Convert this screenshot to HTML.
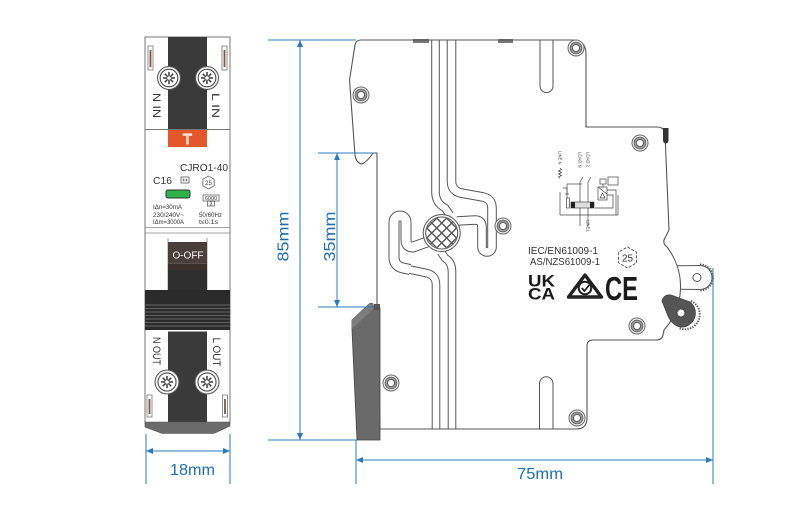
<!DOCTYPE html>
<html><head><meta charset="utf-8"><style>
html,body{margin:0;padding:0;background:#fff;}
svg{display:block;}
text{font-family:"Liberation Sans",Arial,sans-serif;}
</style></head><body>
<svg width="800" height="516" viewBox="0 0 800 516" xmlns="http://www.w3.org/2000/svg">
<defs>
<clipPath id="gc"><circle cx="441.7" cy="233" r="15.5"/></clipPath>
</defs>

<!-- ================= FRONT VIEW ================= -->
<rect x="145" y="37" width="85" height="386" fill="#fff" stroke="#777" stroke-width="1"/>
<rect x="168" y="37" width="39" height="92" fill="#3a3a3a"/>
<line x1="145" y1="129.5" x2="230" y2="129.5" stroke="#777" stroke-width="1"/>
<rect x="148" y="46" width="5" height="24" fill="#fff" stroke="#777" stroke-width="0.8"/>
<rect x="149.6" y="50" width="1.8" height="17" fill="#7a5a45"/>
<rect x="222" y="46" width="5" height="24" fill="#fff" stroke="#777" stroke-width="0.8"/>
<rect x="223.6" y="50" width="1.8" height="17" fill="#7a5a45"/>
<g transform="translate(169,78)">
<circle r="11.5" fill="#f0f0f0" stroke="#555" stroke-width="1"/>
<circle r="8.8" fill="#fff" stroke="#444" stroke-width="1"/>
<g stroke="#444" stroke-width="1.6"><line x1="-6" y1="0" x2="6" y2="0"/><line x1="0" y1="-6" x2="0" y2="6"/><line x1="-4.2" y1="-4.2" x2="4.2" y2="4.2"/><line x1="-4.2" y1="4.2" x2="4.2" y2="-4.2"/></g>
<circle r="1.8" fill="#fff"/>
</g>
<g transform="translate(207,78)">
<circle r="11.5" fill="#f0f0f0" stroke="#555" stroke-width="1"/>
<circle r="8.8" fill="#fff" stroke="#444" stroke-width="1"/>
<g stroke="#444" stroke-width="1.6"><line x1="-6" y1="0" x2="6" y2="0"/><line x1="0" y1="-6" x2="0" y2="6"/><line x1="-4.2" y1="-4.2" x2="4.2" y2="4.2"/><line x1="-4.2" y1="4.2" x2="4.2" y2="-4.2"/></g>
<circle r="1.8" fill="#fff"/>
</g>
<text transform="translate(153,105.5) rotate(90)" text-anchor="middle" font-size="11" fill="#333" textLength="25" lengthAdjust="spacingAndGlyphs">N IN</text>
<text transform="translate(212,105.5) rotate(90)" text-anchor="middle" font-size="11" fill="#333" textLength="25" lengthAdjust="spacingAndGlyphs">L IN</text>
<rect x="168" y="130" width="39" height="17" fill="#e2582a"/>
<text x="187.5" y="144" text-anchor="middle" font-size="15" fill="#e2582a" stroke="#fff" stroke-width="0.9">T</text>
<text x="180" y="171" font-size="10.2" fill="#333" textLength="48" lengthAdjust="spacingAndGlyphs">CJRO1-40</text>
<text x="153" y="184" font-size="10.4" fill="#333" textLength="19" lengthAdjust="spacingAndGlyphs">C16</text>
<rect x="181" y="177" width="8" height="6" fill="none" stroke="#444" stroke-width="0.7"/>
<path d="M182.5,180 h5 M183,178.5 l1,3 M186,178.5 l1,3" stroke="#444" stroke-width="0.6" fill="none"/>
<polygon points="208.5,176 214.1,179.25 214.1,185.75 208.5,189 202.9,185.75 202.9,179.25" fill="none" stroke="#444" stroke-width="0.7"/>
<text x="208.5" y="185" text-anchor="middle" font-size="6" fill="#333">25</text>
<rect x="166" y="190" width="24" height="8" rx="2" fill="#2fb24a" stroke="#333" stroke-width="1"/>
<rect x="203" y="195" width="16" height="6" fill="none" stroke="#333" stroke-width="0.6"/>
<text x="211" y="200" text-anchor="middle" font-size="5.5" fill="#333">6000</text>
<rect x="207.5" y="201" width="7" height="5" fill="none" stroke="#333" stroke-width="0.6"/>
<text x="211" y="205.5" text-anchor="middle" font-size="5" fill="#333">3</text>
<text x="153" y="209" font-size="6.2" fill="#333" textLength="29" lengthAdjust="spacingAndGlyphs">IΔn=30mA</text>
<text x="153" y="217" font-size="6.2" fill="#333" textLength="31" lengthAdjust="spacingAndGlyphs">230/240V~</text>
<text x="153" y="224" font-size="6.2" fill="#333" textLength="31" lengthAdjust="spacingAndGlyphs">IΔm=3000A</text>
<text x="199" y="217" font-size="6.2" fill="#333" textLength="23" lengthAdjust="spacingAndGlyphs">50/60Hz</text>
<text x="199" y="224" font-size="6.2" fill="#333" textLength="19" lengthAdjust="spacingAndGlyphs">t≤0.1s</text>
<line x1="145" y1="227.5" x2="230" y2="227.5" stroke="#888" stroke-width="0.8"/>
<line x1="145" y1="233" x2="230" y2="233" stroke="#888" stroke-width="0.8"/>
<line x1="168" y1="238" x2="168" y2="290" stroke="#888" stroke-width="0.8"/>
<line x1="207" y1="238" x2="207" y2="290" stroke="#888" stroke-width="0.8"/>
<rect x="168" y="242" width="39" height="21" fill="#4a403b"/>
<rect x="168" y="263" width="39" height="7" fill="#3a302c"/>
<line x1="168" y1="263.5" x2="207" y2="263.5" stroke="#6a5c54" stroke-width="0.8"/>
<rect x="168" y="270" width="39" height="20" fill="#2f2f2f"/>
<text x="188" y="258.5" text-anchor="middle" font-size="10" fill="#fff">O-OFF</text>
<rect x="145" y="290" width="85" height="40" fill="#2b2b2b"/>
<g stroke="#5c5c5c" stroke-width="1.2">
<line x1="145" y1="305" x2="230" y2="305"/><line x1="145" y1="308.5" x2="230" y2="308.5"/>
<line x1="145" y1="312" x2="230" y2="312"/><line x1="145" y1="315.5" x2="230" y2="315.5"/>
<line x1="145" y1="319" x2="230" y2="319"/><line x1="145" y1="322.5" x2="230" y2="322.5"/>
<line x1="145" y1="326" x2="230" y2="326"/>
</g>
<rect x="168" y="331.5" width="39" height="91" fill="#3a3a3a"/>
<text transform="translate(153,351) rotate(90)" text-anchor="middle" font-size="11" fill="#333" textLength="28" lengthAdjust="spacingAndGlyphs">N OUT</text>
<text transform="translate(213,352) rotate(90)" text-anchor="middle" font-size="11" fill="#333" textLength="29" lengthAdjust="spacingAndGlyphs">L OUT</text>
<g transform="translate(167,382)">
<circle r="12" fill="#f0f0f0" stroke="#555" stroke-width="1"/>
<circle r="9" fill="#fff" stroke="#444" stroke-width="1"/>
<g stroke="#444" stroke-width="1.6"><line x1="-6" y1="0" x2="6" y2="0"/><line x1="0" y1="-6" x2="0" y2="6"/><line x1="-4.2" y1="-4.2" x2="4.2" y2="4.2"/><line x1="-4.2" y1="4.2" x2="4.2" y2="-4.2"/></g>
<circle r="1.8" fill="#fff"/>
</g>
<g transform="translate(207,382)">
<circle r="12" fill="#f0f0f0" stroke="#555" stroke-width="1"/>
<circle r="9" fill="#fff" stroke="#444" stroke-width="1"/>
<g stroke="#444" stroke-width="1.6"><line x1="-6" y1="0" x2="6" y2="0"/><line x1="0" y1="-6" x2="0" y2="6"/><line x1="-4.2" y1="-4.2" x2="4.2" y2="4.2"/><line x1="-4.2" y1="4.2" x2="4.2" y2="-4.2"/></g>
<circle r="1.8" fill="#fff"/>
</g>
<rect x="147" y="395" width="5" height="22" fill="#fff" stroke="#777" stroke-width="0.8"/>
<rect x="148.6" y="399" width="1.8" height="15" fill="#7a5a45"/>
<rect x="222.5" y="395" width="5" height="22" fill="#fff" stroke="#777" stroke-width="0.8"/>
<rect x="224.1" y="399" width="1.8" height="15" fill="#7a5a45"/>
<polygon points="145,422 230,422 230,426 214,433.5 162,433.5 145,427" fill="#6b6b6b" stroke="#555" stroke-width="0.6"/>

<!-- ================= SIDE VIEW ================= -->
<!-- white lever (behind body) -->
<path d="M660,266 L700,265.5 A12,12 0 0 1 700,289.5 L660,289 Z" fill="#fff" stroke="#555" stroke-width="1"/>
<path d="M700,264.5 A13,13 0 0 1 700,290.5" fill="none" stroke="#555" stroke-width="2" stroke-dasharray="1.3 1.3"/>
<circle cx="697" cy="277.5" r="4" fill="#fff" stroke="#555" stroke-width="1"/>

<path d="M361,40 H572 Q586,40 586,54 V127 H657 Q664,127 665,134 L669,230 L664,240 Q663,244 667,247 A65,65 0 0 1 664,330 L663,335 Q662,340 656,340 H593 Q587,340 587,346 V418 Q587,429 576,429 L380,429 L377,303 V153 H373 Q367,162 362,164 Q356,163 355,155 L349.5,80 L355,45 Q356,40 361,40 Z" fill="#fff" stroke="none"/>

<g fill="none" stroke="#555">
<path stroke-width="8.6" d="M435.5,40 V192 Q435.5,203 445,208 L450,215"/>
<path stroke-width="9.6" d="M451.5,40 V181 Q451.5,191 461,193 L483,197 Q492,199 492,208 V247 A5,5 0 0 1 482,247 V227 Q482,220 475,220 L457,221"/>
<path stroke-width="8.6" d="M436,429 V285 Q436,275 426,273 L406,268.7"/>
<path stroke-width="11" d="M410,269.5 L403,268 Q394,266 394,257 V222 A6,6 0 0 1 406,222 V240 Q406,247 413,247 L427,242"/>
<path stroke-width="8.6" d="M452,429 V272 Q452,262 445,258 L441,252"/>
</g>
<g fill="none" stroke="#fff">
<path stroke-width="6.6" d="M435.5,40 V192 Q435.5,203 445,208 L450,215"/>
<path stroke-width="7.6" d="M451.5,40 V181 Q451.5,191 461,193 L483,197 Q492,199 492,208 V247 A5,5 0 0 1 482,247 V227 Q482,220 475,220 L457,221"/>
<path stroke-width="6.6" d="M436,429 V285 Q436,275 426,273 L406,268.7"/>
<path stroke-width="9" d="M410,269.5 L403,268 Q394,266 394,257 V222 A6,6 0 0 1 406,222 V240 Q406,247 413,247 L427,242"/>
<path stroke-width="6.6" d="M452,429 V272 Q452,262 445,258 L441,252"/>
</g>
<circle cx="441.7" cy="233" r="18.5" fill="#fff" stroke="#555" stroke-width="1"/>
<circle cx="441.7" cy="233" r="16" fill="#fff" stroke="#555" stroke-width="1"/>
<g clip-path="url(#gc)">
<g transform="translate(441.7,233) rotate(45)" stroke="#555" stroke-width="1.4" fill="none">
<line x1="-14" y1="-22" x2="-14" y2="22"/><line x1="-7" y1="-22" x2="-7" y2="22"/><line x1="0" y1="-22" x2="0" y2="22"/><line x1="7" y1="-22" x2="7" y2="22"/><line x1="14" y1="-22" x2="14" y2="22"/>
<line y1="-14" x1="-22" y2="-14" x2="22"/><line y1="-7" x1="-22" y2="-7" x2="22"/><line y1="0" x1="-22" y2="0" x2="22"/><line y1="7" x1="-22" y2="7" x2="22"/><line y1="14" x1="-22" y2="14" x2="22"/>
</g>
</g>

<path d="M540,40 V86 A6.5,6.5 0 0 0 553,86 V40" fill="none" stroke="#555" stroke-width="1"/>
<path d="M539.5,429 V383.5 A6.75,6.75 0 0 1 553,383.5 V429" fill="none" stroke="#555" stroke-width="1"/>
<rect x="413" y="39" width="16" height="4" fill="#777"/>
<rect x="498" y="39" width="15" height="4" fill="#777"/>

<path d="M361,40 H572 Q586,40 586,54 V127 H657 Q664,127 665,134 L669,230 L664,240 Q663,244 667,247 A65,65 0 0 1 664,330 L663,335 Q662,340 656,340 H593 Q587,340 587,346 V418 Q587,429 576,429 L380,429 L377,303 V153 H373 Q367,162 362,164 Q356,163 355,155 L349.5,80 L355,45 Q356,40 361,40 Z" fill="none" stroke="#555" stroke-width="1.1"/>

<g>
<g transform="translate(361,95)"><circle r="8" fill="#fff" stroke="#666"/><circle r="6" fill="#9a9a9a" stroke="#555" stroke-width="0.8"/><circle r="3.5" fill="#fff" stroke="#444" stroke-width="0.8"/></g>
<g transform="translate(576,48)"><circle r="8" fill="#fff" stroke="#666"/><circle r="6" fill="#9a9a9a" stroke="#555" stroke-width="0.8"/><circle r="3.5" fill="#fff" stroke="#444" stroke-width="0.8"/></g>
<g transform="translate(640,143)"><circle r="8" fill="#fff" stroke="#666"/><circle r="6" fill="#9a9a9a" stroke="#555" stroke-width="0.8"/><circle r="3.5" fill="#fff" stroke="#444" stroke-width="0.8"/></g>
<g transform="translate(503,226)"><circle r="8" fill="#fff" stroke="#666"/><circle r="6" fill="#9a9a9a" stroke="#555" stroke-width="0.8"/><circle r="3.5" fill="#fff" stroke="#444" stroke-width="0.8"/></g>
<g transform="translate(637,326)"><circle r="8" fill="#fff" stroke="#666"/><circle r="6" fill="#9a9a9a" stroke="#555" stroke-width="0.8"/><circle r="3.5" fill="#fff" stroke="#444" stroke-width="0.8"/></g>
<g transform="translate(391,383)"><circle r="8" fill="#fff" stroke="#666"/><circle r="6" fill="#9a9a9a" stroke="#555" stroke-width="0.8"/><circle r="3.5" fill="#fff" stroke="#444" stroke-width="0.8"/></g>
<g transform="translate(577,418)"><circle r="8" fill="#fff" stroke="#666"/><circle r="6" fill="#9a9a9a" stroke="#555" stroke-width="0.8"/><circle r="3.5" fill="#fff" stroke="#444" stroke-width="0.8"/></g>
</g>

<path d="M663,128 h5.5 v12 a2.75,3.5 0 0 1 -5.5,0 z" fill="#333"/>

<!-- gray lever (on top) -->
<path d="M662,301 Q664,294 671,295 L690,302 A14,14 0 0 1 680,327 Q672,325 668,316 Z" fill="#555" stroke="#444" stroke-width="0.8"/>
<path d="M691,301 A14.5,14.5 0 0 1 679,328" fill="none" stroke="#555" stroke-width="2" stroke-dasharray="1.3 1.3"/>
<circle cx="681" cy="313" r="4" fill="#fff" stroke="#333" stroke-width="0.8"/>

<path d="M352,320 L368,305 Q371,302 373,304 L374,308 L380,308 L380,440 L357,440 L352,330 Z" fill="#6a6a6a" stroke="#444" stroke-width="0.8"/>
<path d="M352,320 L368,305 Q371,302 373,304 L374,308 L352,329 Z" fill="#7d7d7d"/>
<rect x="374" y="304" width="6" height="6" fill="#555"/>

<g stroke="#444" stroke-width="0.7" fill="none">
<path d="M560,168 l1.5,1.5 l-3,1.5 l3,1.5 l-3,1.5 l3,1.5 l-3,1.5 l1.5,1.5"/>
<line x1="560" y1="192" x2="560" y2="215"/>
<line x1="560" y1="215" x2="618" y2="215"/>
<line x1="618" y1="195" x2="618" y2="215"/>
<line x1="580" y1="182" x2="580" y2="226"/>
<line x1="588" y1="182" x2="588" y2="226"/>
<line x1="580" y1="182" x2="583" y2="177"/>
<line x1="588" y1="182" x2="591" y2="177"/>
<line x1="567" y1="184" x2="582" y2="184"/>
<path d="M563,188 h4 v6 M565,194 h4"/>
<line x1="567" y1="184" x2="567" y2="198"/>
<rect x="566.5" y="198" width="3" height="10"/>
<rect x="598" y="187" width="9" height="13"/>
<path d="M600,198 l2.5,-5 l2.5,5 z"/>
<line x1="598" y1="187" x2="607" y2="194"/>
<rect x="600" y="179" width="6" height="5"/>
<rect x="608" y="177" width="10" height="8"/>
<path d="M607,195 h6 v13 h-18"/>
<path d="M607,190 h9 v25"/>
<line x1="603" y1="184" x2="603" y2="187"/>
</g>
<rect x="571" y="202" width="23" height="6" fill="#ddd" stroke="#333" stroke-width="0.6"/>
<rect x="571" y="202" width="4" height="6" fill="#222"/>
<rect x="590" y="202" width="4" height="6" fill="#222"/>
<text transform="translate(558.5,151) rotate(90)" font-size="4.2" fill="#333">LINE N</text>
<text transform="translate(578.5,152) rotate(90)" font-size="4.2" fill="#333">LOAD N</text>
<text transform="translate(586.5,152) rotate(90)" font-size="4.2" fill="#333">LOAD 2</text>
<text transform="translate(586.5,220) rotate(90)" font-size="4.2" fill="#333">LINE1</text>

<text x="563" y="254" text-anchor="middle" font-size="10" fill="#333" textLength="70" lengthAdjust="spacingAndGlyphs">IEC/EN61009-1</text>
<text x="565" y="265" text-anchor="middle" font-size="10" fill="#333" textLength="70" lengthAdjust="spacingAndGlyphs">AS/NZS61009-1</text>
<polygon points="627.5,247 636.6,252.25 636.6,262.75 627.5,268 618.4,262.75 618.4,252.25" fill="none" stroke="#444" stroke-width="0.8" stroke-dasharray="3 1.5"/>
<text x="627.5" y="261.5" text-anchor="middle" font-size="10" fill="#333">25</text>
<text x="528" y="286.5" font-size="17" font-weight="bold" fill="#1a1a1a" textLength="27" lengthAdjust="spacingAndGlyphs">UK</text>
<text x="528" y="299.5" font-size="17" font-weight="bold" fill="#1a1a1a" textLength="27" lengthAdjust="spacingAndGlyphs">CA</text>
<path d="M585,275 L601.5,297 H568.5 Z" fill="none" stroke="#222" stroke-width="3.4" stroke-linejoin="round"/>
<circle cx="585" cy="288" r="6.3" fill="#fff" stroke="#222" stroke-width="2"/>
<path d="M581.8,288 l2.6,3 l4.8,-6" fill="none" stroke="#222" stroke-width="1.8"/>
<text x="605" y="300" font-size="33" font-weight="bold" fill="#1a1a1a" textLength="33" lengthAdjust="spacingAndGlyphs">CE</text>

<!-- ================= DIMENSIONS ================= -->
<g stroke="#2a7bbc" stroke-width="1" fill="none">
<line x1="146" y1="434" x2="146" y2="484"/>
<line x1="230" y1="434" x2="230" y2="484"/>
<line x1="146" y1="451" x2="230" y2="451"/>
<line x1="268" y1="40" x2="356" y2="40"/>
<line x1="268" y1="440" x2="357" y2="440"/>
<line x1="300" y1="40" x2="300" y2="440"/>
<line x1="318" y1="153" x2="373" y2="153"/>
<line x1="318" y1="307" x2="374" y2="307"/>
<line x1="337" y1="153" x2="337" y2="307"/>
<line x1="356" y1="440" x2="356" y2="484"/>
<line x1="713" y1="268" x2="713" y2="484"/>
<line x1="356" y1="460" x2="713" y2="460"/>
</g>
<g fill="#2a7bbc">
<polygon points="146,451 153,448 153,454"/>
<polygon points="230,451 223,448 223,454"/>
<polygon points="300,40 297,47 303,47"/>
<polygon points="300,440 297,433 303,433"/>
<polygon points="337,153 334,160 340,160"/>
<polygon points="337,307 334,300 340,300"/>
<polygon points="356,460 363,457 363,463"/>
<polygon points="713,460 706,457 706,463"/>
</g>
<g fill="#1d6fb2" font-size="16">
<text x="192.5" y="475" text-anchor="middle" textLength="45" lengthAdjust="spacingAndGlyphs">18mm</text>
<text x="540" y="479" text-anchor="middle" textLength="46" lengthAdjust="spacingAndGlyphs">75mm</text>
<text transform="translate(288.5,236.5) rotate(-90)" text-anchor="middle" textLength="50" lengthAdjust="spacingAndGlyphs">85mm</text>
<text transform="translate(335,236.5) rotate(-90)" text-anchor="middle" textLength="50" lengthAdjust="spacingAndGlyphs">35mm</text>
</g>
</svg>
</body></html>
